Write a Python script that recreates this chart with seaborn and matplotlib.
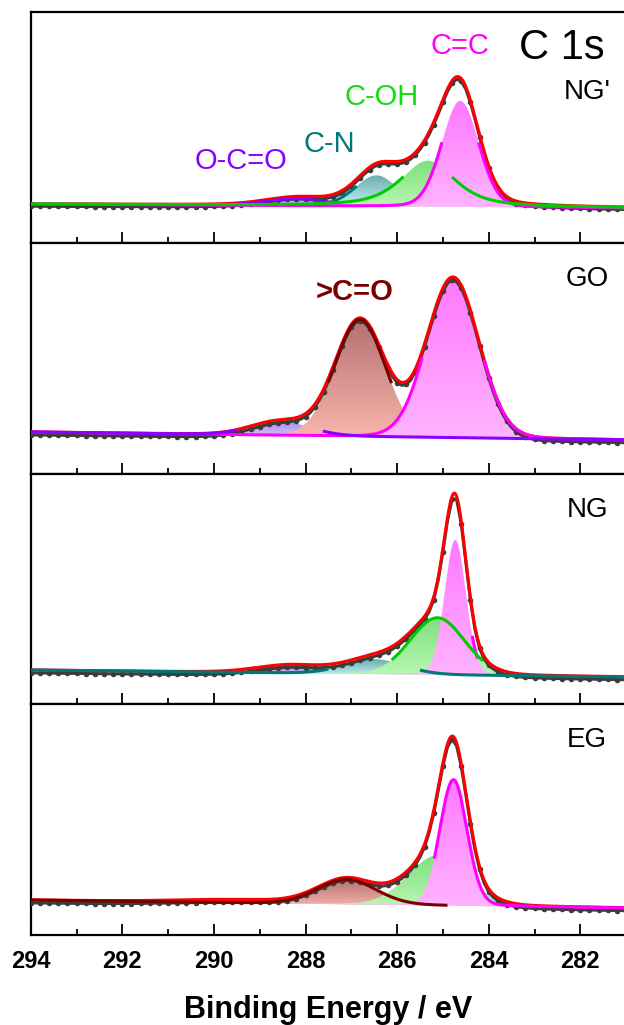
import numpy as np
import matplotlib
matplotlib.use("Agg")
import matplotlib.pyplot as plt
from matplotlib.colors import LinearSegmentedColormap
import seaborn as sns

# ---------------------------------------------------------------------------
# C 1s peak fits: centre (eV), height (a.u.), FWHM (eV), Lorentzian fraction
# ---------------------------------------------------------------------------
samples = ["NG'", "GO", "NG", "EG"]

ngp_species = ["O-C=O", "C-N", "C-OH", "C=C"]
ngp_center = [288.2, 286.45, 285.33, 284.62]
ngp_height = [7, 31, 46, 106]
ngp_fwhm = [1.6, 1.1, 1.4, 0.95]
ngp_eta = [0.2, 0.2, 0.65, 0.1]

go_species = ["O-C=O", ">C=O", "C=C"]
go_center = [288.55, 286.81, 284.78]
go_height = [14, 117, 160]
go_fwhm = [1.5, 1.3, 1.34]
go_eta = [0.1, 0.05, 0.05]

ng_species = ["O-C=O", "C-N", "C-OH", "C=C"]
ng_center = [288.33, 286.5, 285.12, 284.73]
ng_height = [8, 15, 57, 135]
ng_fwhm = [1.7, 1.5, 1.4, 0.55]
ng_eta = [0.2, 0.1, 0.1, 0.1]

eg_species = ["O-C=O", ">C=O", "C-OH", "C=C"]
eg_center = [289.5, 287.1, 285.12, 284.77]
eg_height = [3, 25, 50, 126]
eg_fwhm = [3.0, 1.5, 1.5, 0.7]
eg_eta = [0.2, 0.1, 0.1, 0.1]

# Linear background: value at 294 eV and at 281 eV
bg_high = [0, 0, 0, 0]
bg_low = [-4, -8, -7, -8]

# Measured counts sit slightly below the fitted background
data_shift = [-2.5, -3.0, -3.0, -3.0]

# Peak labels drawn inside the panels: (text, energy, intensity)
ngp_labels = [("C=C", 284.63, 158), ("C-OH", 286.33, 107), ("C-N", 287.49, 60),
              ("O-C=O", 289.40, 43)]
go_labels = [(">C=O", 286.92, 140)]

# ---------------------------------------------------------------------------
# Styles
# ---------------------------------------------------------------------------
LINE = {"O-C=O": "#8A00FF", "C-N": "#007878", "C-OH": "#00CC00",
        "C=C": "#FF00FF", ">C=O": "#7A0000"}
LABEL = {"O-C=O": "#8A00FF", "C-N": "#007878", "C-OH": "#11DD11",
         "C=C": "#FF00FF", ">C=O": "#7A0000"}
FILL_TOP = {"O-C=O": "#A98BEF", "C-N": "#6FAEAE", "C-OH": "#7EDF7E",
            "C=C": "#FF78FF", ">C=O": "#B47070"}
FILL_BOT = {"O-C=O": "#DCCDFF", "C-N": "#C0F6F6", "C-OH": "#BAF8B2",
            "C=C": "#FFB4FF", ">C=O": "#F9B7AE"}

# visible parts of each component outline: (min frac, max frac, E min, E max)
outline_windows = [
    {"O-C=O": [(0, 1, 287.3, 289.6)], "C-N": [(0, 0.65, 286.8, 287.6)],
     "C-OH": [(0, 0.65, 281, 294)], "C=C": [(0, 0.62, 281, 294)]},
    {"O-C=O": [(0, 0.35, 281, 294)], ">C=O": [(0.45, 1, 281, 294)],
     "C=C": [(0, 0.5, 281, 294)]},
    {"O-C=O": [], "C-N": [(0, 0.3, 281, 294)], "C-OH": [(0.25, 1, 281, 294)],
     "C=C": [(0.12, 0.3, 284.0, 284.6)]},
    {"O-C=O": [], ">C=O": [(0, 1, 284.9, 294)], "C-OH": [],
     "C=C": [(0.37, 1, 284.77, 294), (0, 1, 281, 284.77)]},
]
line_order = [["O-C=O", "C-N", "C=C", "C-OH"],
              ["C=C", ">C=O", "O-C=O"],
              ["C=C", "C-OH", "C-N"],
              [">C=O", "C=C"]]
ylims = [(-38.75, 192.0), (-41.5, 189.25), (-34.25, 196.5), (-35.0, 195.75)]

FONT = "Liberation Sans"

sns.set_theme(style="ticks")
plt.rcParams["font.family"] = [FONT, "DejaVu Sans"]
plt.rcParams["text.color"] = "black"
plt.rcParams["axes.labelcolor"] = "black"
plt.rcParams["xtick.color"] = "black"
plt.rcParams["xtick.labelcolor"] = "black"


def pseudo_voigt(e, c, h, w, eta):
    u = (e - c) / w
    g = np.exp(-4 * np.log(2) * u ** 2)
    lor = 1.0 / (1.0 + 4 * u ** 2)
    return h * ((1 - eta) * g + eta * lor)


def gradient_fill(ax, x, base, top, c_top, c_bot, z):
    poly = ax.fill_between(x, base, top, facecolor="none", edgecolor="none", zorder=z)
    cmap = LinearSegmentedColormap.from_list("grad", [c_bot, c_top])
    im = ax.imshow(np.linspace(0, 1, 256)[:, None], cmap=cmap, aspect="auto",
                   extent=(x.min(), x.max(), base.min(), top.max()),
                   origin="lower", zorder=z, interpolation="bilinear")
    im.set_clip_path(poly.get_paths()[0], transform=ax.transData)


fits = [
    (ngp_species, ngp_center, ngp_height, ngp_fwhm, ngp_eta),
    (go_species, go_center, go_height, go_fwhm, go_eta),
    (ng_species, ng_center, ng_height, ng_fwhm, ng_eta),
    (eg_species, eg_center, eg_height, eg_fwhm, eg_eta),
]

fig = plt.figure(figsize=(6.24, 10.25), dpi=100)
W, H = 624.0, 1025.0
left_px, right_px = 30.7, 30.7 + 13 * 45.8
top_px, bottom_px = 12.0, 935.0
ph = (bottom_px - top_px) / 4

energy = np.linspace(281.0, 294.0, 1301)
energy_pts = np.round(np.arange(281.0, 294.001, 0.1), 2)

axes = []
for i in range(4):
    y0 = 1 - (top_px + (i + 1) * ph) / H
    ax = fig.add_axes([left_px / W, y0, (right_px - left_px) / W, ph / H])
    axes.append(ax)
    species, center, height, fwhm, eta = fits[i]

    bg = bg_high[i] + (bg_low[i] - bg_high[i]) * (294.0 - energy) / 13.0
    bg_pts = bg_high[i] + (bg_low[i] - bg_high[i]) * (294.0 - energy_pts) / 13.0

    comps = {}
    total = bg.copy()
    total_pts = bg_pts.copy() + data_shift[i]
    for s, c, h, w, et in zip(species, center, height, fwhm, eta):
        comps[s] = pseudo_voigt(energy, c, h, w, et)
        total += comps[s]
        total_pts += pseudo_voigt(energy_pts, c, h, w, et)

    # filled components
    for k, s in enumerate(species):
        gradient_fill(ax, energy, bg, bg + comps[s], FILL_TOP[s], FILL_BOT[s], 2 + 0.1 * k)

    # measured spectrum
    sns.lineplot(x=energy_pts, y=total_pts, ax=ax, color="#3C3C3C", lw=2.2,
                 marker="o", markersize=4.0, markeredgewidth=0, markevery=2,
                 estimator=None, sort=False, zorder=4)

    # envelope
    sns.lineplot(x=energy, y=total, ax=ax, color="#FF0000", lw=2.2,
                 estimator=None, sort=False, zorder=5)

    # component outlines
    for k, s in enumerate(line_order[i]):
        idx = species.index(s)
        frac = comps[s] / height[idx]
        vis = np.zeros_like(energy, dtype=bool)
        for fmin, fmax, elo, ehi in outline_windows[i][s]:
            vis |= (frac >= fmin) & (frac <= fmax) & (energy >= elo) & (energy <= ehi)
        yv = np.where(vis, bg + comps[s], np.nan)
        ax.plot(energy, yv, color=LINE[s], lw=2.2, zorder=6 + 0.1 * k,
                solid_capstyle="butt")

    ax.set_xlim(294, 281)
    ax.set_ylim(*ylims[i])
    ax.set_yticks([])
    ax.set_ylabel("")
    ax.set_xticks(np.arange(282, 295, 2))
    ax.set_xticks(np.arange(281, 295, 1), minor=True)
    ax.tick_params(axis="x", which="major", direction="in", length=8, width=1.3,
                   top=False, bottom=True, color="black", pad=10.5)
    ax.tick_params(axis="x", which="minor", direction="in", length=4, width=1.3,
                   top=False, bottom=True, color="black")
    for sp in ax.spines.values():
        sp.set_linewidth(1.6)
        sp.set_color("black")
        sp.set_visible(True)
    ax.set_facecolor("white")
    if i < 3:
        ax.set_xticklabels([])
        ax.set_xlabel("")
    else:
        ax.set_xticklabels([str(v) for v in range(282, 295, 2)],
                           fontsize=17, fontweight="bold", fontfamily=FONT,
                           color="black")
        ax.set_xlabel("Binding Energy / eV", fontsize=22, fontweight="bold",
                      fontfamily=FONT, labelpad=16, color="black")

    ax.text(281.85, ylims[i][1] - (36 if i else 80), samples[i], fontsize=20,
            ha="center", va="center", color="black", fontfamily=FONT)

# panel labels and peak assignments
axes[0].text(282.40, 156, "C 1s", fontsize=30, ha="center", va="center",
             color="black", fontfamily=FONT)
for text, e, y in ngp_labels:
    axes[0].text(e, y, text, fontsize=21, ha="center", va="center",
                 color=LABEL[text], fontfamily=FONT)
for text, e, y in go_labels:
    axes[1].text(e, y, text, fontsize=21, ha="center", va="center",
                 color=LABEL[text], fontweight="bold", fontfamily=FONT)

fig.savefig("out.png", dpi=100, facecolor="white")
